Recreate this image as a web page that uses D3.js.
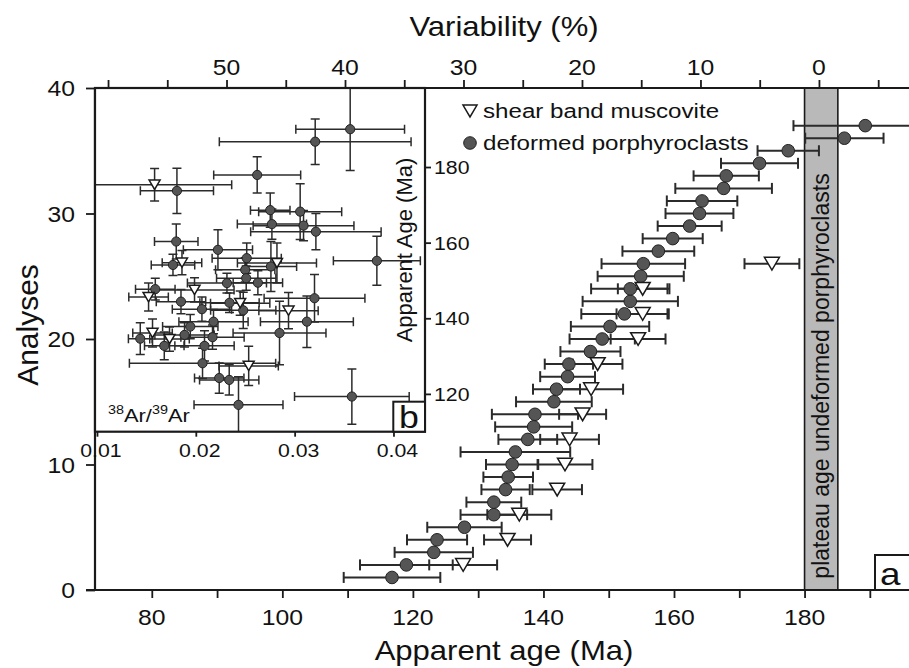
<!DOCTYPE html>
<html>
<head>
<meta charset="utf-8">
<script src="https://cdn.jsdelivr.net/npm/d3@7/dist/d3.min.js"></script>
<style>
  body { margin: 0; background: #fff; }
  text { font-family: "Liberation Sans", Arial, sans-serif; fill: #111; }
</style>
</head>
<body>
<svg id="chart" width="909" height="668"></svg>
<script>
// main plot: deformed porphyroclasts (analysis number, age, 1 sigma)
const porphN = [1,2,3,4,5,6,7,8,9,10,11,12,13,14,15,16,17,18,19,20,21,22,23,24,25,26,27,28,29,30,31,32,33,34,35,36,37];
const porphAge = [116.8,119.0,123.2,123.7,127.9,132.4,132.4,134.2,134.6,135.2,135.7,137.6,138.5,138.7,141.6,142.0,143.7,143.9,147.2,149.0,150.2,152.4,153.3,153.3,154.9,155.3,157.6,159.8,162.4,163.9,164.3,167.6,168.0,173.1,177.5,186.1,189.3];
const porphErr = [7.4,7.1,6.0,4.6,5.7,5.1,4.2,3.7,3.8,4.0,8.4,4.5,5.9,6.6,5.8,3.6,4.2,3.7,4.6,5.0,6.0,6.6,7.3,6.0,6.6,6.4,5.5,4.6,4.9,5.2,5.4,7.4,5.0,5.9,4.7,6.0,11.0];

// main plot: shear band muscovite
const shearN = [2,4,6,8,10,12,14,16,18,20,22,24,26];
const shearAge = [127.7,134.5,136.3,142.1,143.3,144.0,146.0,147.3,148.3,154.5,155.2,155.2,175.0];
const shearErr = [5.2,3.6,4.9,3.8,4.2,4.5,3.6,4.9,3.8,4.2,4.0,3.8,4.2];

// plateau age band
const plateau = [180, 185.1];

// inset b: 38Ar/39Ar vs apparent age
const insRatioP = [0.03562,0.03208,0.02621,0.01809,0.03056,0.02753,0.02770,0.03090,0.03215,0.01802,0.02224,0.02515,0.03832,0.01769,0.02760,0.02500,0.02510,0.02628,0.02315,0.01590,0.03201,0.01850,0.02341,0.02062,0.02480,0.03124,0.02179,0.01944,0.02847,0.01886,0.02169,0.01438,0.01681,0.02088,0.02068,0.02237,0.02338,0.02432,0.03579];
const insAgeP = [190.0,186.7,177.9,173.7,168.2,168.6,164.9,164.5,162.9,160.3,158.1,155.9,155.2,154.1,153.7,152.8,150.6,149.4,149.3,147.7,145.3,144.4,144.1,142.4,142.1,139.1,139.1,137.8,136.1,135.6,135.0,134.6,132.7,132.7,128.1,124.2,123.7,117.1,119.3];
const insRatioErrP = [0.0055,0.0097,0.0044,0.0037,0.0042,0.0020,0.0035,0.0051,0.0066,0.0022,0.0035,0.0035,0.0044,0.0022,0.0026,0.0030,0.0030,0.0025,0.0040,0.0020,0.0051,0.0025,0.0030,0.0030,0.0033,0.0047,0.0035,0.0028,0.0047,0.0030,0.0032,0.0012,0.0020,0.0030,0.0074,0.0025,0.0030,0.0045,0.0058];
const insAgeErrP = [10.9,6.0,4.8,6.0,7.4,4.5,4.0,4.0,4.8,4.6,5.3,4.0,6.5,2.8,6.6,3.2,3.2,3.2,2.6,2.9,6.3,3.2,2.6,3.2,4.8,6.8,3.2,3.2,8.4,3.2,3.2,4.2,3.7,4.0,4.0,4.0,4.0,7.4,7.3];

const insRatioS = [0.01583,0.01860,0.02821,0.01987,0.01522,0.02449,0.02938,0.01562,0.01734,0.02535];
const insAgeS = [175.3,154.7,154.6,147.5,145.6,144.0,142.0,136.1,134.5,127.4];
const insRatioErrS = [0.0078,0.0020,0.0040,0.0040,0.0020,0.0030,0.0030,0.0020,0.0020,0.0030];
const insAgeErrS = [4.3,3.2,5.3,3.2,3.7,3.2,4.8,3.7,3.2,5.2];

// tick values
const ageTicks = [80,100,120,140,160,180];
const ageMinor = [80,90,100,110,120,130,140,150,160,170,180,190];
const varTicks = [50,40,30,20,10,0];
const varMinor = [60,55,50,45,40,35,30,25,20,15,10,5,0,-5];
const nTicks = [0,10,20,30,40];
const ratioTicks = [0.01,0.02,0.03,0.04];
const insAgeTicks = [120,140,160,180];

const svg = d3.select("#chart");
const L = 95, R = 909, T = 88, B = 590;

const x = d3.scaleLinear().domain([71.3, 196.0]).range([L, R]);
const xTop = d3.scaleLinear().domain([61.1, -7.6]).range([L, R]);
const y = d3.scaleLinear().domain([0, 40]).range([B, T]);

const ink = "#1a1a1a";
const barCol = "#2b2b2b";
const SX = 1.15; // the figure's lettering is a bit wider than plain Arial

// text helper, stretched along the writing direction
function label(g, px, py, str, size, anchor, rot, sx) {
  const t = g.append("text")
    .attr("transform", `translate(${px},${py})` + (rot ? ` rotate(${rot})` : "") + ` scale(${sx || SX},1)`)
    .attr("text-anchor", anchor || "start")
    .style("font-size", size + "px");
  if (str !== null) t.text(str);
  return t;
}

//полоса плато
svg.append("rect")
  .attr("x", x(plateau[0])).attr("y", T)
  .attr("width", x(plateau[1]) - x(plateau[0])).attr("height", B - T)
  .attr("fill", "#b9b9b9").attr("stroke", ink).attr("stroke-width", 1.6);
label(svg, (x(plateau[0]) + x(plateau[1])) / 2 + 8, 376, "plateau age undeformed porphyroclasts", 23, "middle", -90, 1);

// main marks
svg.append("clipPath").attr("id", "mainclip")
  .append("rect").attr("x", L).attr("y", T).attr("width", R - L).attr("height", B - T);
const main = svg.append("g").attr("clip-path", "url(#mainclip)");

function hbar(g, xs, cy, lo, hi, cap, w) {
  g.append("line").attr("x1", xs(lo)).attr("x2", xs(hi)).attr("y1", cy).attr("y2", cy)
    .attr("stroke", barCol).attr("stroke-width", w);
  [lo, hi].forEach(v => g.append("line")
    .attr("x1", xs(v)).attr("x2", xs(v)).attr("y1", cy - cap).attr("y2", cy + cap)
    .attr("stroke", barCol).attr("stroke-width", w));
}
function vbar(g, ys, cx, lo, hi, cap, w) {
  g.append("line").attr("x1", cx).attr("x2", cx).attr("y1", ys(lo)).attr("y2", ys(hi))
    .attr("stroke", barCol).attr("stroke-width", w);
  [lo, hi].forEach(v => g.append("line")
    .attr("x1", cx - cap).attr("x2", cx + cap).attr("y1", ys(v)).attr("y2", ys(v))
    .attr("stroke", barCol).attr("stroke-width", w));
}
function tri(g, cx, cy, s) {
  const h = s * 0.85;
  g.append("path")
    .attr("d", `M${cx - s / 2},${cy - h / 2}L${cx + s / 2},${cy - h / 2}L${cx},${cy + h / 2}Z`)
    .attr("fill", "#fff").attr("stroke", ink).attr("stroke-width", 1.5);
}

porphN.forEach((n, i) => hbar(main, x, y(n), porphAge[i] - porphErr[i], porphAge[i] + porphErr[i], 5.5, 2));
shearN.forEach((n, i) => hbar(main, x, y(n), shearAge[i] - shearErr[i], shearAge[i] + shearErr[i], 5.5, 2));
porphN.forEach((n, i) => main.append("circle")
  .attr("cx", x(porphAge[i])).attr("cy", y(n)).attr("r", 6.3)
  .attr("fill", "#555").attr("stroke", "#222").attr("stroke-width", 1));
shearN.forEach((n, i) => tri(main, x(shearAge[i]), y(n), 15));

// axes
const fsTick = 21.5;
const gB = svg.append("g").attr("transform", `translate(0,${B})`);
gB.call(d3.axisBottom(x).tickValues(ageMinor).tickSize(8).tickFormat(""));
gB.call(g => g.select(".domain").remove());
ageTicks.forEach(t => label(gB, x(t), 35, t, fsTick, "middle"));

const gT = svg.append("g").attr("transform", `translate(0,${T})`);
gT.call(d3.axisTop(xTop).tickValues(varMinor).tickSize(8).tickFormat(""));
gT.call(g => g.select(".domain").remove());
varTicks.forEach(t => label(gT, xTop(t), -13, t, fsTick, "middle"));

const gL = svg.append("g").attr("transform", `translate(${L},0)`);
gL.call(d3.axisLeft(y).tickValues(nTicks).tickSize(9).tickFormat(""));
gL.call(g => g.select(".domain").remove());
nTicks.forEach(t => label(gL, -20, y(t) + 8, t, fsTick, "end"));

svg.selectAll(".tick line").attr("stroke", ink).attr("stroke-width", 2);

// axis lines
svg.append("line").attr("x1", L - 9).attr("x2", R).attr("y1", B).attr("y2", B).attr("stroke", ink).attr("stroke-width", 2.2);
svg.append("line").attr("x1", L).attr("x2", R).attr("y1", T).attr("y2", T).attr("stroke", ink).attr("stroke-width", 2.2);
svg.append("line").attr("x1", L).attr("x2", L).attr("y1", T).attr("y2", B).attr("stroke", ink).attr("stroke-width", 2.2);

// axis titles
label(svg, 504, 660, "Apparent age (Ma)", 27, "middle");
label(svg, 504, 36, "Variability (%)", 27, "middle");
label(svg, 38, 325, "Analyses", 30, "middle", -90, 1);

// legend
const lg = svg.append("g").attr("transform", "translate(470,0)");
tri(lg, 0, 111, 14);
label(lg, 13, 118, "shear band muscovite", 21);
lg.append("circle").attr("cx", 0).attr("cy", 143).attr("r", 6.3).attr("fill", "#555").attr("stroke", "#222");
label(lg, 13, 150, "deformed porphyroclasts", 21);

// panel label a
svg.append("rect").attr("x", 875).attr("y", 555).attr("width", 40).attr("height", 35)
  .attr("fill", "#fff").attr("stroke", ink).attr("stroke-width", 2);
label(svg, 880, 585, "a", 32);

// ---------- inset b ----------
const iL = 95, iR = 425, iT = 88, iB = 431.7;
const ix = d3.scaleLinear().domain([0.0098, 0.04319]).range([iL, iR]);
const iy = d3.scaleLinear().domain([110.0, 200.9]).range([iB, iT]);

svg.append("rect").attr("x", iL).attr("y", iT).attr("width", iR - iL).attr("height", iB - iT)
  .attr("fill", "#fff");
svg.append("clipPath").attr("id", "insclip")
  .append("rect").attr("x", iL).attr("y", iT).attr("width", iR - iL).attr("height", iB - iT);
const ins = svg.append("g").attr("clip-path", "url(#insclip)");

insRatioP.forEach((r, i) => {
  hbar(ins, ix, iy(insAgeP[i]), r - insRatioErrP[i], r + insRatioErrP[i], 4.5, 1.5);
  vbar(ins, iy, ix(r), insAgeP[i] - insAgeErrP[i], insAgeP[i] + insAgeErrP[i], 4.5, 1.5);
});
insRatioS.forEach((r, i) => {
  hbar(ins, ix, iy(insAgeS[i]), r - insRatioErrS[i], r + insRatioErrS[i], 4.5, 1.5);
  vbar(ins, iy, ix(r), insAgeS[i] - insAgeErrS[i], insAgeS[i] + insAgeErrS[i], 4.5, 1.5);
});
insRatioP.forEach((r, i) => ins.append("circle")
  .attr("cx", ix(r)).attr("cy", iy(insAgeP[i])).attr("r", 4.6)
  .attr("fill", "#555").attr("stroke", "#222").attr("stroke-width", 1));
insRatioS.forEach((r, i) => tri(ins, ix(r), iy(insAgeS[i]), 11));

svg.append("rect").attr("x", iL).attr("y", iT).attr("width", iR - iL).attr("height", iB - iT)
  .attr("fill", "none").attr("stroke", ink).attr("stroke-width", 2.2);

// inset axes
const giB = svg.append("g").attr("transform", `translate(0,${iB})`);
giB.call(d3.axisBottom(ix).tickValues(ratioTicks).tickSize(5).tickFormat(""));
giB.call(g => g.select(".domain").remove());
ratioTicks.forEach(t => label(giB, ix(t) + 4, 25, d3.format(".2f")(t), 18.5, "middle"));

const giR = svg.append("g").attr("transform", `translate(${iR},0)`);
giR.call(d3.axisRight(iy).tickValues(insAgeTicks).tickSize(6).tickFormat(""));
giR.call(g => g.select(".domain").remove());
insAgeTicks.forEach(t => label(giR, 9, iy(t) + 7, t, 18.5));
svg.selectAll(".tick line").attr("stroke", ink).attr("stroke-width", 1.8);

label(svg, 412, 250, "Apparent Age (Ma)", 22, "middle", -90, 1);

const lab = label(svg, 108, 422, null, 19);
lab.append("tspan").attr("dy", "-8").style("font-size", "12.5px").text("38");
lab.append("tspan").attr("dy", "8").text("Ar/");
lab.append("tspan").attr("dy", "-8").style("font-size", "12.5px").text("39");
lab.append("tspan").attr("dy", "8").text("Ar");

svg.append("rect").attr("x", 393.3).attr("y", 401.7).attr("width", iR - 393.3).attr("height", iB - 401.7)
  .attr("fill", "#fff").attr("stroke", ink).attr("stroke-width", 2);
label(svg, 409, 428, "b", 31, "middle");
</script>
</body>
</html>
